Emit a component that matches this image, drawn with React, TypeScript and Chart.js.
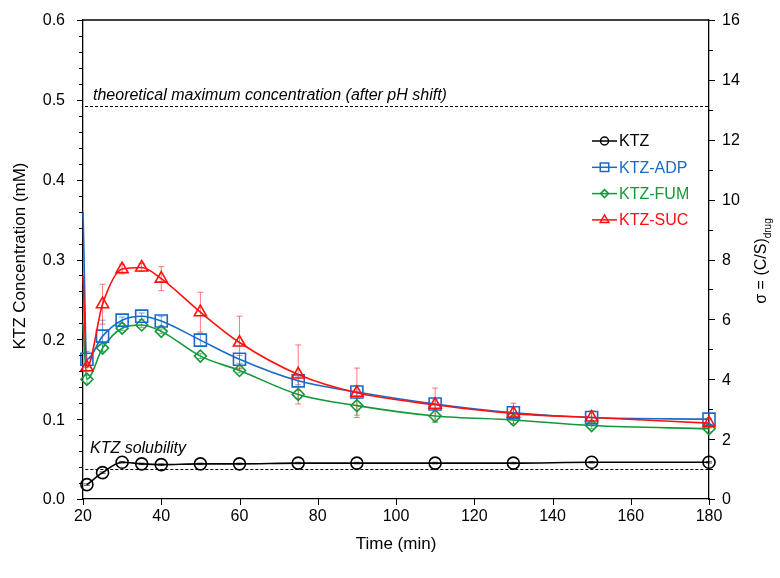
import { useEffect, useRef } from "react";
import { Chart, registerables } from "chart.js";

Chart.register(...registerables);

// ---- data ----
const ktzTimes = [21, 25, 30, 35, 40, 50, 60, 75, 90, 110, 130, 150, 180];
const ktzValues = [0.018, 0.033, 0.046, 0.044, 0.043, 0.044, 0.044, 0.045, 0.045, 0.045, 0.045, 0.046, 0.046];
const ktzErrors = [0.001, 0.001, 0.001, 0.001, 0.001, 0.001, 0.001, 0.001, 0.001, 0.001, 0.001, 0.001, 0.001];

const coTimes = [20, 21, 25, 30, 35, 40, 50, 60, 75, 90, 110, 130, 150, 180];
const adpValues = [0.36, 0.175, 0.204, 0.224, 0.229, 0.223, 0.199, 0.175, 0.148, 0.134, 0.119, 0.108, 0.102, 0.1];
const adpErrors = [0, 0.01, 0.02, 0.004, 0.004, 0.006, 0.008, 0.005, 0.005, 0.008, 0.006, 0.006, 0.008, 0.007];
const fumValues = [0.22, 0.15, 0.189, 0.214, 0.218, 0.21, 0.179, 0.161, 0.131, 0.117, 0.104, 0.099, 0.092, 0.088];
const fumErrors = [0, 0.005, 0.004, 0.003, 0.003, 0.003, 0.003, 0.003, 0.005, 0.012, 0.008, 0.005, 0.004, 0.004];
const sucValues = [0.28, 0.165, 0.244, 0.288, 0.29, 0.276, 0.234, 0.196, 0.156, 0.133, 0.118, 0.107, 0.102, 0.095];
const sucErrors = [0, 0.005, 0.025, 0.006, 0.005, 0.015, 0.025, 0.033, 0.037, 0.031, 0.021, 0.013, 0.008, 0.006];

const solubilityLevel = 0.0375;
const theoreticalMax = 0.492;

const xTicks = [20, 40, 60, 80, 100, 120, 140, 160, 180];
const yTicks = [0, 0.1, 0.2, 0.3, 0.4, 0.5, 0.6];
const y2Ticks = [0, 2, 4, 6, 8, 10, 12, 14, 16];

const KTZ_COLOR = "#000000";
const ADP_COLOR = "#1a6bc8";
const FUM_COLOR = "#14993a";
const SUC_COLOR = "#ff1010";

const FONT = "'Liberation Sans', Arial, Helvetica, sans-serif";

type Series = {
  label: string;
  times: number[];
  values: number[];
  errors: number[];
  color: string;
  errColor: string;
  style: string;
  radius: number;
  legendRadius: number;
};

const series: Series[] = [
  { label: "KTZ", times: ktzTimes, values: ktzValues, errors: ktzErrors, color: KTZ_COLOR, errColor: "rgba(0,0,0,0.6)", style: "circle", radius: 6, legendRadius: 4 },
  { label: "KTZ-ADP", times: coTimes, values: adpValues, errors: adpErrors, color: ADP_COLOR, errColor: "rgba(26,107,200,0.6)", style: "rect", radius: 8.5, legendRadius: 6 },
  { label: "KTZ-FUM", times: coTimes, values: fumValues, errors: fumErrors, color: FUM_COLOR, errColor: "rgba(20,153,58,0.6)", style: "rectRot", radius: 6, legendRadius: 4 },
  { label: "KTZ-SUC", times: coTimes, values: sucValues, errors: sucErrors, color: SUC_COLOR, errColor: "rgba(255,16,16,0.55)", style: "triangle", radius: 7, legendRadius: 5 },
];

function drawMarker(ctx: CanvasRenderingContext2D, style: string, x: number, y: number, r: number) {
  ctx.beginPath();
  if (style === "circle") {
    ctx.arc(x, y, r, 0, Math.PI * 2);
  } else if (style === "rect") {
    const s = Math.SQRT1_2 * r;
    ctx.rect(x - s, y - s, 2 * s, 2 * s);
  } else if (style === "rectRot") {
    ctx.moveTo(x, y - r);
    ctx.lineTo(x + r, y);
    ctx.lineTo(x, y + r);
    ctx.lineTo(x - r, y);
    ctx.closePath();
  } else if (style === "triangle") {
    ctx.moveTo(x, y - r);
    ctx.lineTo(x + r * 0.866, y + r * 0.5);
    ctx.lineTo(x - r * 0.866, y + r * 0.5);
    ctx.closePath();
  }
  ctx.stroke();
}

const overlayPlugin = {
  id: "overlay",
  beforeDatasetsDraw(chart: any) {
    const ctx: CanvasRenderingContext2D = chart.ctx;
    const xs = chart.scales.x;
    const ys = chart.scales.y;
    const area = chart.chartArea;
    ctx.save();
    // dashed reference lines
    ctx.strokeStyle = "#000";
    ctx.lineWidth = 1;
    ctx.setLineDash([3, 2]);
    const yMax = Math.round(ys.getPixelForValue(theoreticalMax)) + 0.5;
    ctx.beginPath();
    ctx.moveTo(area.left + 2, yMax);
    ctx.lineTo(area.right, yMax);
    ctx.stroke();
    const ySol = Math.round(ys.getPixelForValue(solubilityLevel)) + 0.5;
    ctx.beginPath();
    ctx.moveTo(xs.getPixelForValue(20.6), ySol);
    ctx.lineTo(area.right, ySol);
    ctx.stroke();
    ctx.setLineDash([]);

    // error bars
    ctx.lineWidth = 1;
    for (const s of series) {
      ctx.strokeStyle = s.errColor;
      s.times.forEach((t, i) => {
        const e = s.errors[i];
        if (!e) return;
        const px = xs.getPixelForValue(t);
        const top = ys.getPixelForValue(s.values[i] + e);
        const bot = ys.getPixelForValue(s.values[i] - e);
        ctx.beginPath();
        ctx.moveTo(px, top);
        ctx.lineTo(px, bot);
        ctx.moveTo(px - 3, top);
        ctx.lineTo(px + 3, top);
        ctx.moveTo(px - 3, bot);
        ctx.lineTo(px + 3, bot);
        ctx.stroke();
      });
    }
    ctx.restore();
  },
  afterDraw(chart: any) {
    const ctx: CanvasRenderingContext2D = chart.ctx;
    const xs = chart.scales.x;
    const ys = chart.scales.y;
    const y2 = chart.scales.y2;
    const area = chart.chartArea;
    ctx.save();
    ctx.strokeStyle = "#000";
    ctx.lineWidth = 1.3;
    // top border
    ctx.beginPath();
    ctx.moveTo(area.left, area.top);
    ctx.lineTo(area.right, area.top);
    ctx.stroke();
    // left ticks
    ctx.lineWidth = 1;
    for (let k = 0; k <= 30; k++) {
      const v = k * 0.02;
      const py = Math.round(ys.getPixelForValue(v)) + 0.5;
      const len = k % 5 === 0 ? 6 : 4;
      ctx.beginPath();
      ctx.moveTo(area.left - len, py);
      ctx.lineTo(area.left, py);
      ctx.stroke();
    }
    // right ticks
    for (let k = 0; k <= 16; k++) {
      const py = Math.round(y2.getPixelForValue(k)) + 0.5;
      const len = k % 2 === 0 ? 6 : 4;
      ctx.beginPath();
      ctx.moveTo(area.right, py);
      ctx.lineTo(area.right + len, py);
      ctx.stroke();
    }
    // bottom ticks
    for (const t of xTicks) {
      const px = Math.round(xs.getPixelForValue(t)) + 0.5;
      ctx.beginPath();
      ctx.moveTo(px, area.bottom);
      ctx.lineTo(px, area.bottom + 6);
      ctx.stroke();
    }

    // y tick labels
    ctx.fillStyle = "#000";
    ctx.font = `16px ${FONT}`;
    ctx.textBaseline = "middle";
    ctx.textAlign = "right";
    for (const v of yTicks) {
      ctx.fillText(v.toFixed(1), area.left - 18, ys.getPixelForValue(v) + 1);
    }
    ctx.textAlign = "left";
    for (const v of y2Ticks) {
      ctx.fillText(String(v), area.right + 13, y2.getPixelForValue(v) + 1);
    }

    // annotations
    ctx.font = `italic 16px ${FONT}`;
    ctx.textAlign = "left";
    ctx.textBaseline = "middle";
    ctx.fillText("theoretical maximum concentration (after pH shift)", area.left + 10, ys.getPixelForValue(theoreticalMax) - 11);
    ctx.fillText("KTZ solubility", area.left + 7, ys.getPixelForValue(solubilityLevel) - 21);

    // legend
    const legX = 592;
    const legY = 141;
    const rowH = 26.3;
    series.forEach((s, i) => {
      const cy = legY + i * rowH;
      ctx.strokeStyle = s.color;
      ctx.lineWidth = 1.5;
      ctx.beginPath();
      ctx.moveTo(legX, cy);
      ctx.lineTo(legX + 25, cy);
      ctx.stroke();
      drawMarker(ctx, s.style, legX + 12.5, cy, s.legendRadius);
      ctx.fillStyle = s.color;
      ctx.font = `16px ${FONT}`;
      ctx.textBaseline = "middle";
      ctx.fillText(s.label, legX + 27, cy + 1);
    });

    // axis titles
    ctx.fillStyle = "#000";
    ctx.textAlign = "center";
    ctx.textBaseline = "middle";
    ctx.font = `17px ${FONT}`;
    ctx.fillText("Time (min)", (area.left + area.right) / 2, 544);

    ctx.save();
    ctx.translate(20, 256);
    ctx.rotate(-Math.PI / 2);
    ctx.font = `17px ${FONT}`;
    ctx.fillText("KTZ Concentration (mM)", 0, 0);
    ctx.restore();

    ctx.save();
    ctx.translate(762, 261);
    ctx.rotate(-Math.PI / 2);
    ctx.font = `16px ${FONT}`;
    const main = "σ = (C/S)";
    const w1 = ctx.measureText(main).width;
    ctx.font = `10px ${FONT}`;
    const w2 = ctx.measureText("drug").width;
    const start = -(w1 + w2) / 2;
    ctx.textAlign = "left";
    ctx.font = `16px ${FONT}`;
    ctx.fillText(main, start, 0);
    ctx.font = `10px ${FONT}`;
    ctx.fillText("drug", start + w1, 6);
    ctx.restore();

    ctx.restore();
  },
};

export default function App() {
  const ref = useRef<HTMLCanvasElement | null>(null);
  useEffect(() => {
    if (!ref.current) return;
    const ordered = [series[3], series[1], series[2], series[0]];
    const chart = new Chart(ref.current, {
      type: "line",
      data: {
        datasets: ordered.map((s) => ({
          label: s.label,
          data: s.times.map((t, i) => ({ x: t, y: s.values[i] })),
          borderColor: s.color,
          borderWidth: 1.6,
          pointStyle: s.style as any,
          pointRadius: s.times.map((t) => (t === 20 ? 0 : s.radius)),
          pointBorderColor: s.color,
          pointBackgroundColor: "rgba(255,255,255,0)",
          pointBorderWidth: 1.6,
          cubicInterpolationMode: "monotone" as any,
          clip: false as any,
          fill: false,
        })),
      },
      options: {
        animation: false,
        responsive: false,
        maintainAspectRatio: false,
        layout: { padding: { top: 20, left: 0, right: 0, bottom: 0 } },
        plugins: {
          legend: { display: false },
          tooltip: { enabled: false },
        },
        scales: {
          x: {
            type: "linear",
            min: 20,
            max: 180,
            afterFit: (s: any) => {
              s.height = 79;
            },
            afterBuildTicks: (s: any) => {
              s.ticks = xTicks.map((v) => ({ value: v }));
            },
            ticks: {
              color: "#000",
              font: { family: FONT, size: 16 },
              padding: 8,
              maxRotation: 0,
            },
            grid: { display: false, drawTicks: false },
            border: { display: true, color: "#000", width: 1.3 },
          },
          y: {
            type: "linear",
            position: "left",
            min: 0,
            max: 0.6,
            afterFit: (s: any) => {
              s.width = 83;
            },
            ticks: { display: false, stepSize: 0.1 },
            grid: { display: false, drawTicks: false },
            border: { display: true, color: "#000", width: 1.3 },
          },
          y2: {
            type: "linear",
            position: "right",
            min: 0,
            max: 16,
            afterFit: (s: any) => {
              s.width = 71;
            },
            ticks: { display: false, stepSize: 2 },
            grid: { display: false, drawTicks: false },
            border: { display: true, color: "#000", width: 1.3 },
          },
        },
      },
      plugins: [overlayPlugin],
    });
    return () => chart.destroy();
  }, []);
  return (
    <div style={{ position: "fixed", left: 0, top: 0, width: 780, height: 578, background: "#fff" }}>
      <canvas ref={ref} width={780} height={578} style={{ width: 780, height: 578 }} />
    </div>
  );
}
